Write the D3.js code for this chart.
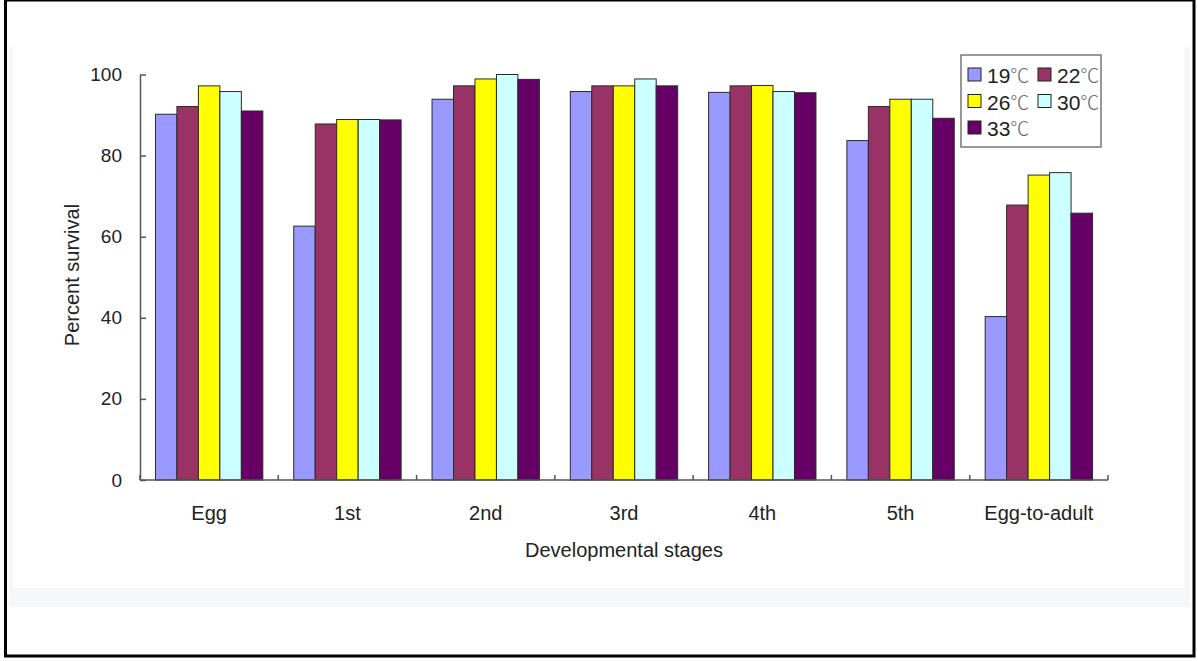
<!DOCTYPE html>
<html>
<head>
<meta charset="utf-8">
<script src="https://cdn.jsdelivr.net/npm/d3@7"></script>
<style>
  body { margin: 0; background: #fff; }
  text { font-family: "Liberation Sans", Arial, sans-serif; fill: #222; }
</style>
</head>
<body>
<div id="chart"></div>
<script>
// Datos
var stages = ["Egg", "1st", "2nd", "3rd", "4th", "5th", "Egg-to-adult"];
var temps = ["19", "22", "26", "30", "33"];
var s19 = [90.2, 62.6, 93.9, 95.8, 95.6, 83.7, 40.3];
var s22 = [92.1, 87.8, 97.2, 97.2, 97.2, 92.1, 67.8];
var s26 = [97.2, 88.9, 98.9, 97.2, 97.3, 93.9, 75.2];
var s30 = [95.8, 88.9, 100.0, 98.9, 95.8, 93.9, 75.8];
var s33 = [91.0, 88.8, 98.8, 97.2, 95.5, 89.2, 65.8];
var yTicks = [0, 20, 40, 60, 80, 100];

var series = [s19, s22, s26, s30, s33];
var colors = ["#9999ff", "#993366", "#ffff00", "#ccffff", "#660066"];

var width = 1198;
var height = 661;

var svg = d3.select("#chart")
    .append("svg")
    .attr("width", width)
    .attr("height", height);

// Marco de la pagina
svg.append("rect").attr("x", 9).attr("y", 47).attr("width", 1181).attr("height", 560).attr("fill", "#f6f7f9");
svg.append("rect").attr("x", 13).attr("y", 0).attr("width", 1171).attr("height", 588).attr("fill", "#fff");
svg.append("rect")
    .attr("x", 5.5).attr("y", 0)
    .attr("width", 1188.5).attr("height", 656)
    .attr("fill", "none")
    .attr("stroke", "#000")
    .attr("stroke-width", 3);

// Escalas
var x0 = d3.scaleBand()
    .domain(stages)
    .range([140, 1108])
    .padding(0);

var x1 = d3.scaleBand()
    .domain(temps)
    .range([0, x0.bandwidth()])
    .paddingInner(0)
    .paddingOuter(0.72);

var y = d3.scaleLinear()
    .domain([0, 100])
    .range([480, 74.5]);

var color = d3.scaleOrdinal().domain(temps).range(colors);

// Barras
var groups = svg.selectAll("g.stage")
    .data(stages)
    .enter()
    .append("g")
    .attr("class", "stage")
    .attr("transform", function (d) { return "translate(" + x0(d) + ",0)"; });

groups.selectAll("rect")
    .data(function (d, i) {
        return temps.map(function (t, j) { return { temp: t, value: series[j][i] }; });
    })
    .enter()
    .append("rect")
    .attr("x", function (d) { return x1(d.temp); })
    .attr("y", function (d) { return y(d.value); })
    .attr("width", x1.bandwidth())
    .attr("height", function (d) { return y(0) - y(d.value); })
    .attr("fill", function (d) { return color(d.temp); })
    .attr("stroke", "#2a2a2a")
    .attr("stroke-width", 1);

// Eje Y
var yAxis = svg.append("g")
    .attr("transform", "translate(140,0)")
    .call(d3.axisLeft(y).tickValues(yTicks).tickSizeInner(-6).tickSizeOuter(0).tickPadding(18));
yAxis.select(".domain").attr("stroke", "#555").attr("stroke-width", 1.5);
yAxis.selectAll(".tick line").attr("stroke", "#555").attr("stroke-width", 1.5);
yAxis.selectAll(".tick text")
    .style("font-size", "19px")
    .style("font-family", "Liberation Sans, Arial, sans-serif")
    .attr("fill", "#222");

// Eje X
var xAxis = svg.append("g")
    .attr("transform", "translate(0,480)")
    .call(d3.axisBottom(x0).tickSize(0).tickPadding(26));
xAxis.select(".domain").remove();
xAxis.selectAll(".tick text")
    .style("font-size", "20px")
    .style("font-family", "Liberation Sans, Arial, sans-serif")
    .attr("fill", "#222");

svg.append("line")
    .attr("x1", 140).attr("x2", 1108)
    .attr("y1", y(0)).attr("y2", y(0))
    .attr("stroke", "#555").attr("stroke-width", 1.5);

var bounds = stages.map(function (d) { return x0(d); }).concat([x0.range()[1]]);
svg.selectAll("line.xtick")
    .data(bounds)
    .enter()
    .append("line")
    .attr("class", "xtick")
    .attr("x1", function (d) { return d; })
    .attr("x2", function (d) { return d; })
    .attr("y1", y(0))
    .attr("y2", y(0) - 5)
    .attr("stroke", "#555").attr("stroke-width", 1.5);

// Etiquetas de los ejes
svg.append("text")
    .attr("transform", "rotate(-90)")
    .attr("x", -275)
    .attr("y", 79)
    .style("text-anchor", "middle")
    .style("font-size", "20px")
    .text("Percent survival");

svg.append("text")
    .attr("x", 624)
    .attr("y", 557)
    .style("text-anchor", "middle")
    .style("font-size", "20px")
    .text("Developmental stages");

// Leyenda
var legend = svg.append("g");
legend.append("rect")
    .attr("x", 961).attr("y", 55)
    .attr("width", 140).attr("height", 92)
    .attr("fill", "#fff")
    .attr("stroke", "#777")
    .attr("stroke-width", 1.5);

var items = legend.selectAll("g.item")
    .data(temps)
    .enter()
    .append("g")
    .attr("class", "item")
    .attr("transform", function (d, i) {
        return "translate(" + (968 + (i % 2) * 70) + "," + (68 + Math.floor(i / 2) * 26.5) + ")";
    });

items.append("rect")
    .attr("width", 13).attr("height", 13)
    .attr("fill", function (d) { return color(d); })
    .attr("stroke", "#222")
    .attr("stroke-width", 1);

items.append("text")
    .attr("x", 19)
    .attr("y", 15)
    .style("font-size", "21px")
    .text(function (d) { return d; })
    .append("tspan")
    .style("font-family", "Noto Sans CJK SC, sans-serif")
    .style("font-size", "19px")
    .style("font-weight", "300")
    .attr("fill", "#666")
    .text("℃");
</script>
</body>
</html>
